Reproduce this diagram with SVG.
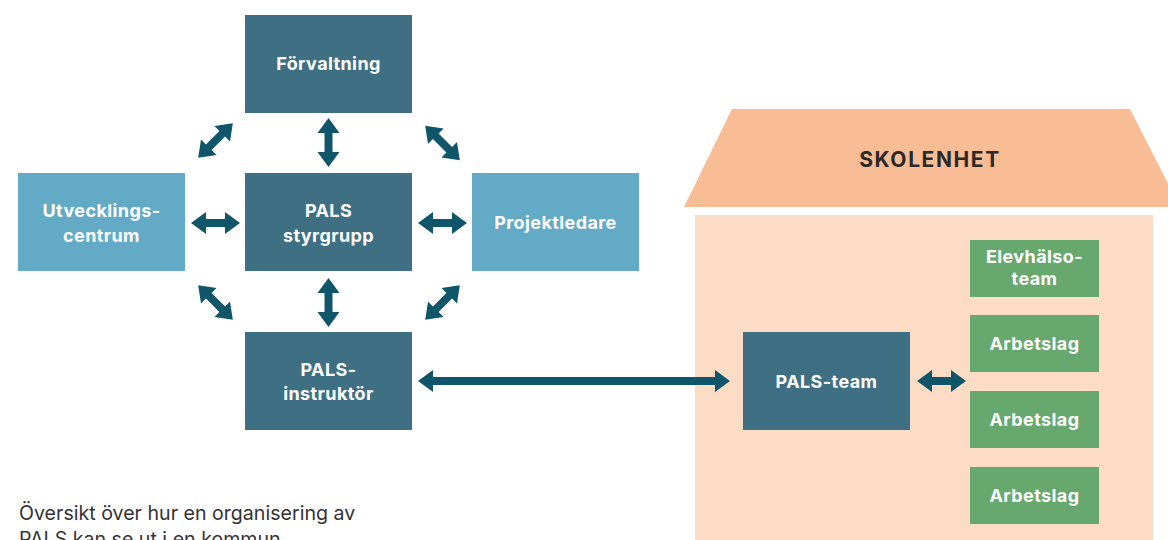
<svg xmlns="http://www.w3.org/2000/svg" width="1168" height="540" viewBox="0 0 1168 540">
<defs>
<style>
.dk{fill:#3f6f82}
.lb{fill:#62aac6}
.gr{fill:#67a86e}
.t{font-family:Inter,"Liberation Sans",Arial,sans-serif;font-weight:700;font-size:18px;letter-spacing:0.4px;fill:#ffffff;text-anchor:middle}
.arr{fill:#10566b}
.cap{font-family:Inter,"Liberation Sans",Arial,sans-serif;font-size:19.6px;fill:#333333}
</style>
<path id="dbl" d="M-24.5,0 L-9.5,-11 L-9.5,-4 L9.5,-4 L9.5,-11 L24.5,0 L9.5,11 L9.5,4 L-9.5,4 L-9.5,11 Z"/>
</defs>
<rect width="1168" height="540" fill="#ffffff"/>
<g id="skolenhet">
<rect x="695" y="215" width="458" height="340" fill="#fcdcc4"/>
<polygon points="732,109 1130,109 1180,207 684,207" fill="#f9bd95"/>
<text x="930" y="167" style="font-family:Inter,'Liberation Sans',Arial,sans-serif;font-weight:700;font-size:21px;fill:#2a2a2a;text-anchor:middle;letter-spacing:1.6px">SKOLENHET</text>
</g>
<g id="forvaltning"><rect class="dk" x="245" y="15" width="167" height="98"/><text class="t" x="328.5" y="70">Förvaltning</text></g>
<g id="styrgrupp"><rect class="dk" x="245" y="173" width="167" height="98"/><text class="t" x="328.5" y="217">PALS</text><text class="t" x="328.5" y="242">styrgrupp</text></g>
<g id="utvecklingscentrum"><rect class="lb" x="18" y="173" width="167" height="98"/><text class="t" x="101.5" y="217">Utvecklings-</text><text class="t" x="101.5" y="242">centrum</text></g>
<g id="projektledare"><rect class="lb" x="472" y="173" width="167" height="98"/><text class="t" x="555.5" y="229">Projektledare</text></g>
<g id="instruktor"><rect class="dk" x="245" y="332" width="167" height="98"/><text class="t" x="328.5" y="376">PALS-</text><text class="t" x="328.5" y="400">instruktör</text></g>
<g id="palsteam"><rect class="dk" x="743" y="332" width="167" height="98"/><text class="t" x="826.5" y="388">PALS-team</text></g>
<g id="elevhalsoteam"><rect class="gr" x="970" y="240" width="129" height="57"/><text class="t" x="1034.5" y="263">Elevhälso-</text><text class="t" x="1034.5" y="285">team</text></g>
<g id="arbetslag1"><rect class="gr" x="970" y="315" width="129" height="57"/><text class="t" x="1034.5" y="350">Arbetslag</text></g>
<g id="arbetslag2"><rect class="gr" x="970" y="391" width="129" height="57"/><text class="t" x="1034.5" y="426">Arbetslag</text></g>
<g id="arbetslag3"><rect class="gr" x="970" y="467" width="129" height="57"/><text class="t" x="1034.5" y="502">Arbetslag</text></g>
<g id="connectors" class="arr">
<use href="#dbl" transform="translate(328.5,142.5) rotate(90)"/>
<use href="#dbl" transform="translate(328.5,302.5) rotate(90)"/>
<use href="#dbl" transform="translate(215.5,223)"/>
<use href="#dbl" transform="translate(442.5,223)"/>
<use href="#dbl" transform="translate(215.5,140.5) rotate(-45)"/>
<use href="#dbl" transform="translate(442.5,143) rotate(45)"/>
<use href="#dbl" transform="translate(215.5,302.5) rotate(45)"/>
<use href="#dbl" transform="translate(442.5,302.5) rotate(-45)"/>
<path d="M418,381 L433,370 L433,377 L715,377 L715,370 L730,381 L715,392 L715,385 L433,385 L433,392 Z"/>
<use href="#dbl" transform="translate(941.5,381)"/>
</g>
<text class="cap" x="19" y="520">Översikt över hur en organisering av</text>
<text class="cap" x="19" y="546">PALS kan se ut i en kommun</text>
</svg>
